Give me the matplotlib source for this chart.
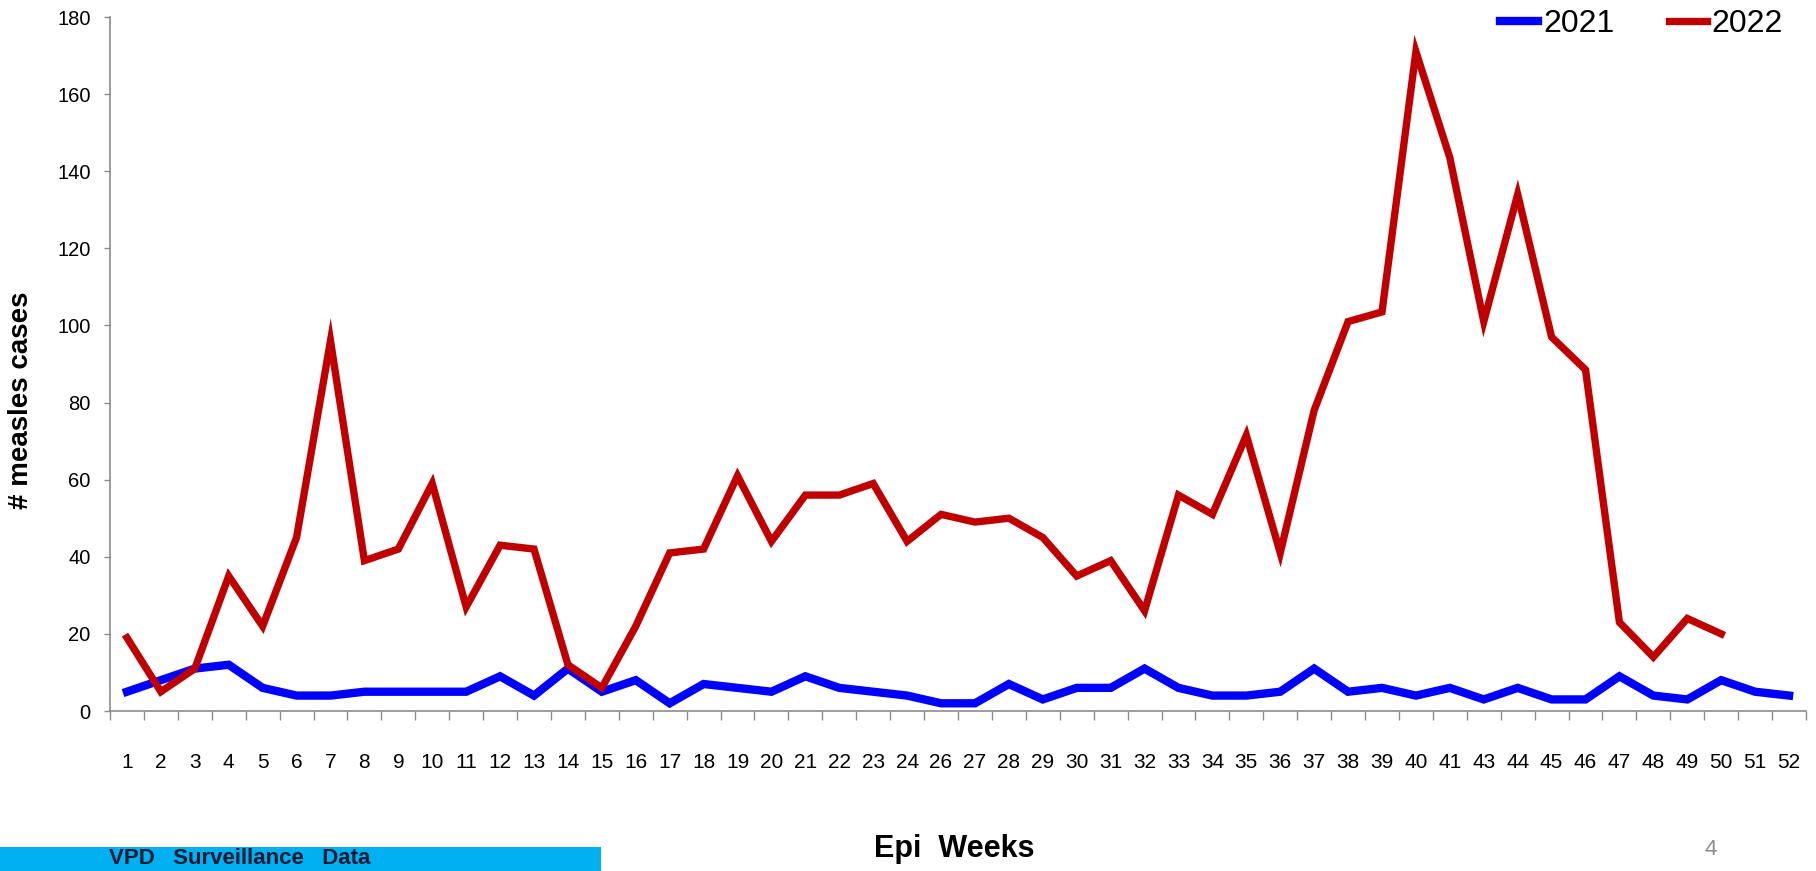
import numpy as np
import matplotlib
matplotlib.use("Agg")
import matplotlib.pyplot as plt
from matplotlib.patches import Rectangle

plt.rcParams['font.family'] = ['Liberation Sans', 'DejaVu Sans']

weeks = ["1", "2", "3", "4", "5", "6", "7", "8", "9", "10", "11", "12", "13", "14",
         "15", "16", "17", "18", "19", "20", "21", "22", "23", "24", "26", "27", "28",
         "29", "30", "31", "32", "33", "34", "35", "36", "37", "38", "39", "40", "41",
         "43", "44", "45", "46", "47", "48", "49", "50", "51", "52"]

cases_2021 = [5, 8, 11, 12, 6, 4, 4, 5, 5, 5, 5, 9, 4, 11, 5, 8, 2, 7, 6, 5, 9, 6, 5, 4,
              2, 2, 7, 3, 6, 6, 11, 6, 4, 4, 5, 11, 5, 6, 4, 6, 3, 6, 3, 3, 9, 4, 3, 8, 5, 4]

# 2022 stops at week 50
cases_2022 = [19, 5, 11, 35, 22, 45, 96, 39, 42, 59, 27, 43, 42, 12, 6, 22, 41, 42, 61, 44,
              56, 56, 59, 44, 51, 49, 50, 45, 35, 39, 26, 56, 51, 71.5, 41, 78, 101, 103.5,
              171, 143.5, 101, 134, 97, 88.5, 23, 14, 24, 20]

W, H = 1816, 871
fig = plt.figure(figsize=(W / 100, H / 100), dpi=100)
ax = fig.add_axes([110 / W, 1 - 711 / H, (1806 - 110) / W, (711 - 17) / H])

x = np.arange(len(weeks))
ax.plot(x, cases_2021, color="#0000FF", lw=6, label="2021", solid_joinstyle="miter")
ax.plot(x[:len(cases_2022)], cases_2022, color="#C00000", lw=5.3, label="2022",
        solid_joinstyle="miter")

ax.set_xlim(-0.5, len(weeks) - 0.5)
ax.set_ylim(0, 180)
ax.set_yticks(np.arange(0, 181, 20))
ax.set_xticks(x)
ax.set_xticklabels(weeks)
ax.set_xticks(np.arange(-0.5, len(weeks), 1), minor=True)

gray = "#8c8c8c"
for side in ["top", "right"]:
    ax.spines[side].set_visible(False)
for side in ["left", "bottom"]:
    ax.spines[side].set_color(gray)
    ax.spines[side].set_linewidth(1.2)

ax.tick_params(axis="x", which="major", length=0, pad=30, labelsize=15)
ax.tick_params(axis="x", which="minor", length=6.5, color=gray, width=1)
ax.tick_params(axis="y", length=4, color=gray, width=1, pad=10, labelsize=14.5)

fig.text(21 / W, 1 - 400 / H, "# measles cases", rotation=90, ha="center", va="center",
         fontsize=20, fontweight="bold")
fig.text(954 / W, 1 - 849 / H, "Epi  Weeks", ha="center", va="center",
         fontsize=22, fontweight="bold")
fig.text(1711 / W, 1 - 849 / H, "4", ha="center", va="center", fontsize=16, color="#8c8c8c")

fig.patches.append(Rectangle((0, 0), 601 / W, 1 - 847 / H, transform=fig.transFigure,
                             facecolor="#00B0F0", edgecolor="none"))
fig.text(109 / W, 2 / H, "VPD   Surveillance   Data", ha="left", va="bottom",
         fontsize=16, fontweight="bold", color="#0b1a33")

ax.legend(loc="upper right", bbox_to_anchor=(1783 / W, 1 - 9 / H),
          bbox_transform=fig.transFigure, ncol=2, frameon=False, fontsize=23,
          handlelength=1.2, handletextpad=0.15, columnspacing=1.7,
          borderaxespad=0, borderpad=0)

fig.savefig("out.png", dpi=100)
